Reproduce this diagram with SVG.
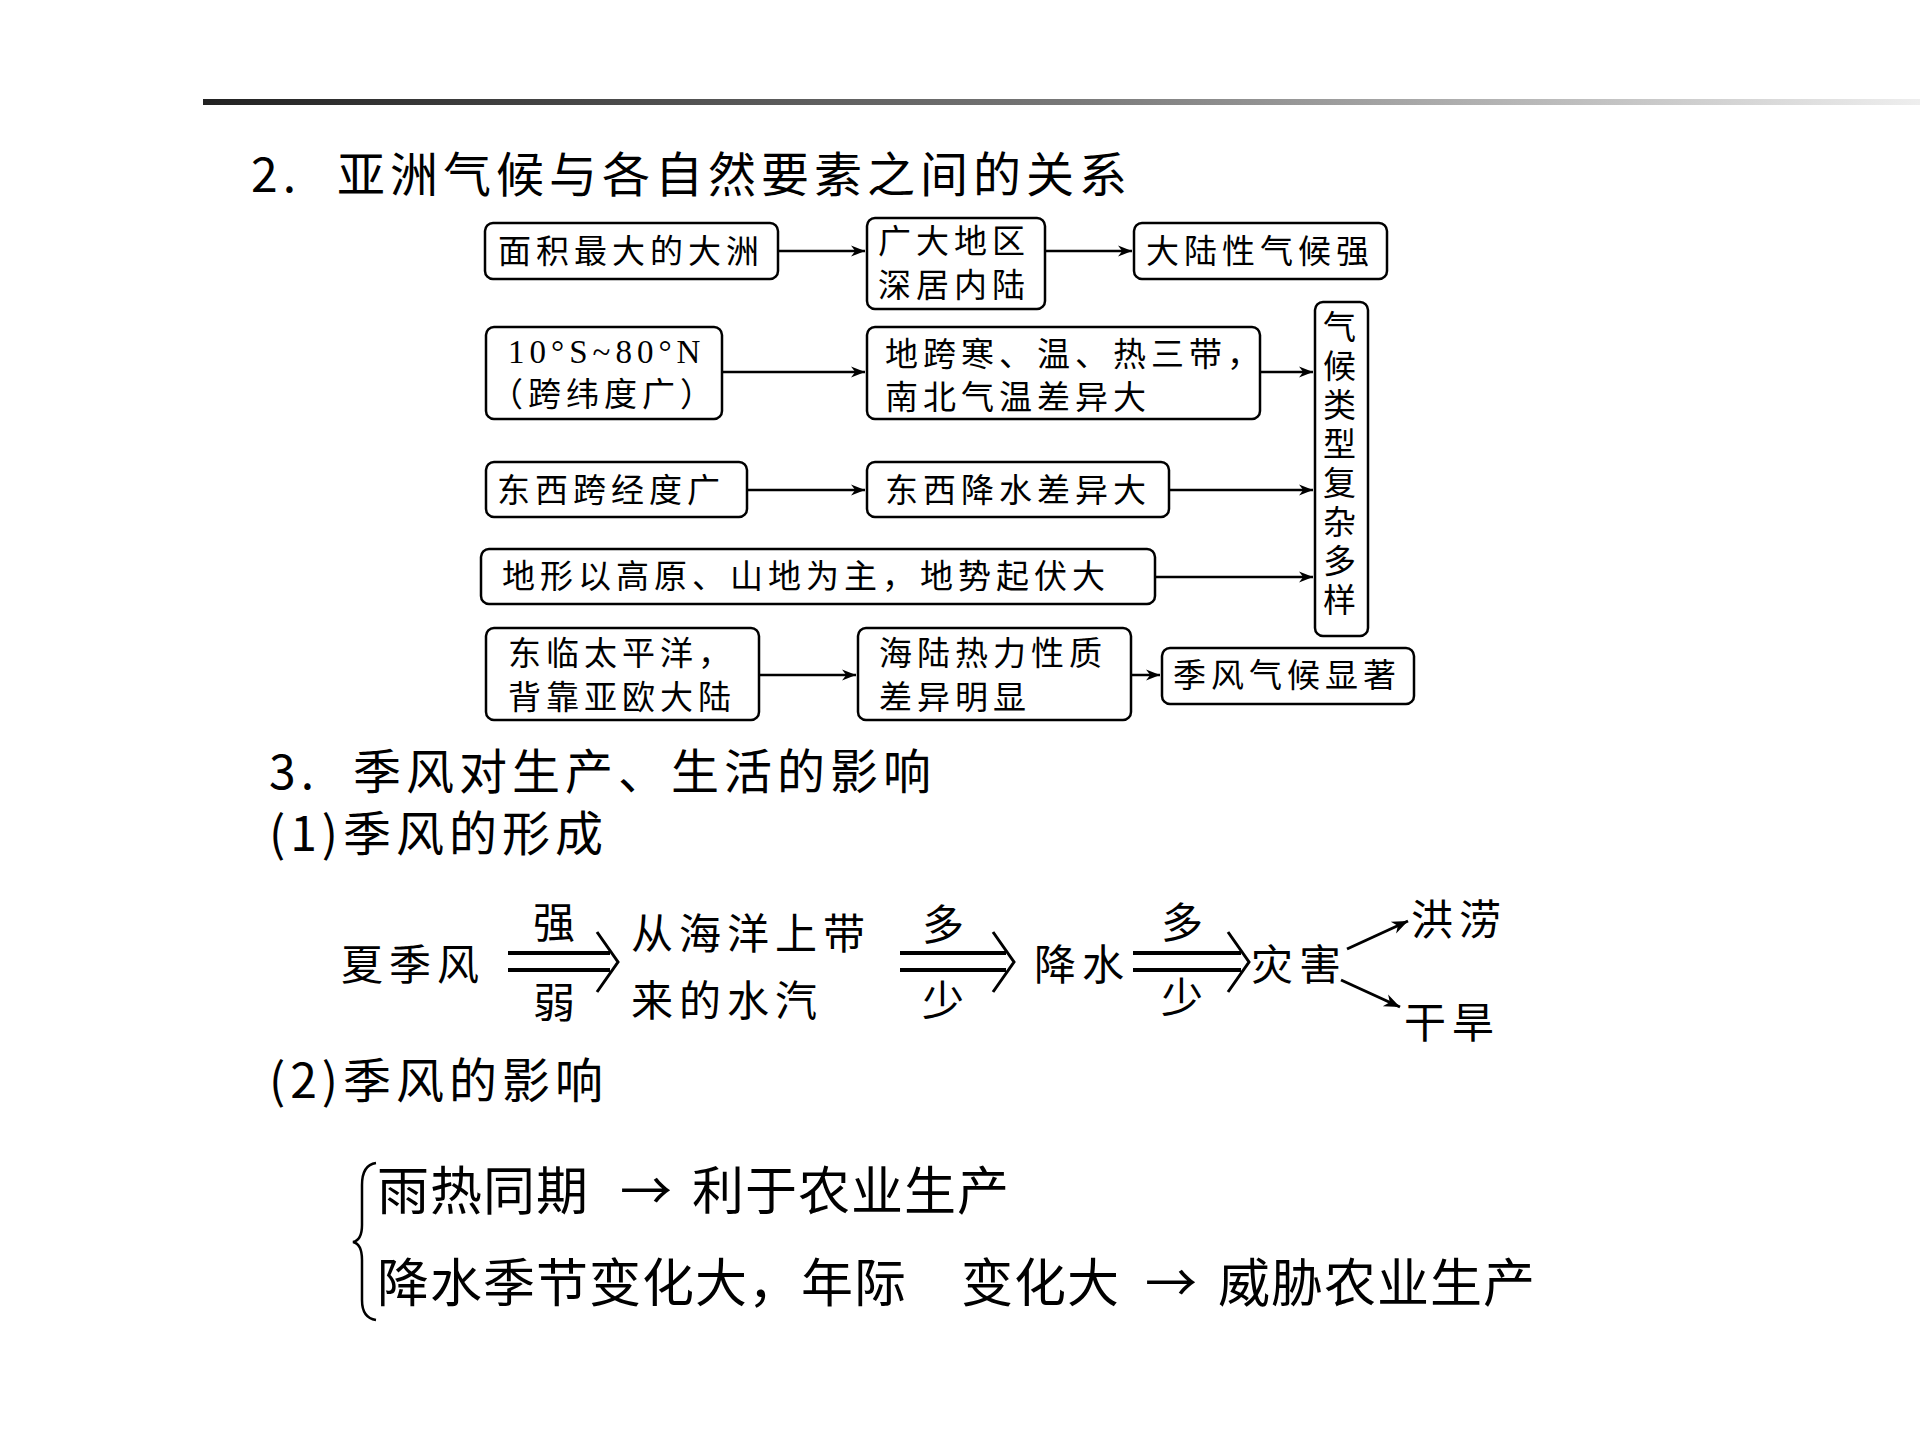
<svg xmlns="http://www.w3.org/2000/svg" width="1920" height="1440" viewBox="0 0 1920 1440">
<defs>
<linearGradient id="g" x1="0" x2="1"><stop offset="0" stop-color="#222"/><stop offset="0.5" stop-color="#777"/><stop offset="1" stop-color="#eee"/></linearGradient>
<marker id="ah" viewBox="0 0 10 10" refX="10" refY="5" markerWidth="14" markerHeight="14" markerUnits="userSpaceOnUse" orient="auto"><path d="M0,1 L10,5 L0,9 L3,5 Z" fill="#000"/></marker>
<marker id="ah2" viewBox="0 0 10 10" refX="10" refY="5" markerWidth="16" markerHeight="16" markerUnits="userSpaceOnUse" orient="auto"><path d="M0,1 L10,5 L0,9 L3,5 Z" fill="#000"/></marker>
</defs>
<style>
.b{fill:#fff;stroke:#000;stroke-width:2.5}
.t{font-family:"Liberation Serif","Noto Sans CJK SC",serif;font-size:33px;letter-spacing:5px;fill:#000}
.h{font-family:"Noto Sans CJK SC",sans-serif;font-size:48px;letter-spacing:5px;fill:#000}
.f{font-family:"Liberation Serif","Noto Sans CJK SC",serif;font-size:42px;letter-spacing:6px;fill:#000}
.s{font-family:"Noto Sans CJK SC",sans-serif;font-size:52px;letter-spacing:1px;fill:#000}
.c{stroke:#000;stroke-width:2.5;fill:none;marker-end:url(#ah)}
.d{stroke:#000;stroke-width:4;fill:none}
</style>
<rect width="1920" height="1440" fill="#fff"/>
<rect x="203" y="99" width="1717" height="6" fill="url(#g)"/>
<text class="h" x="251" y="192">2.</text><text class="h" x="337" y="192">亚洲气候与各自然要素之间的关系</text>
<g id="n1"><rect class="b" x="485" y="223" width="293" height="56" rx="8"/><text class="t" x="498" y="263">面积最大的大洲</text></g>
<g id="n2"><rect class="b" x="867" y="218" width="178" height="91" rx="8"/><text class="t" x="878" y="253">广大地区</text><text class="t" x="878" y="297">深居内陆</text></g>
<g id="n3"><rect class="b" x="1134" y="223" width="253" height="56" rx="8"/><text class="t" x="1146" y="263">大陆性气候强</text></g>
<g id="n4"><rect class="b" x="486" y="327" width="236" height="92" rx="8"/><text class="t" x="508" y="363" letter-spacing="0">10°S~80°N</text><text class="t" x="490" y="406" letter-spacing="0">（跨纬度广）</text></g>
<g id="n5"><rect class="b" x="867" y="327" width="393" height="92" rx="8"/><text class="t" x="885" y="366">地跨寒、温、热三带，</text><text class="t" x="885" y="409">南北气温差异大</text></g>
<g id="n6"><rect class="b" x="1315" y="302" width="53" height="334" rx="8"/><text class="t" text-anchor="middle" letter-spacing="0"><tspan x="1342" y="339">气</tspan><tspan x="1342" y="378">候</tspan><tspan x="1342" y="417">类</tspan><tspan x="1342" y="456">型</tspan><tspan x="1342" y="495">复</tspan><tspan x="1342" y="534">杂</tspan><tspan x="1342" y="573">多</tspan><tspan x="1342" y="612">样</tspan></text></g>
<g id="n7"><rect class="b" x="486" y="462" width="261" height="55" rx="8"/><text class="t" x="497" y="502">东西跨经度广</text></g>
<g id="n8"><rect class="b" x="867" y="462" width="302" height="55" rx="8"/><text class="t" x="885" y="502">东西降水差异大</text></g>
<g id="n9"><rect class="b" x="481" y="549" width="674" height="55" rx="8"/><text class="t" x="502" y="588">地形以高原、山地为主，地势起伏大</text></g>
<g id="n10"><rect class="b" x="486" y="628" width="273" height="92" rx="8"/><text class="t" x="508" y="665">东临太平洋，</text><text class="t" x="508" y="709">背靠亚欧大陆</text></g>
<g id="n11"><rect class="b" x="858" y="628" width="273" height="92" rx="8"/><text class="t" x="879" y="665">海陆热力性质</text><text class="t" x="879" y="709">差异明显</text></g>
<g id="n12"><rect class="b" x="1162" y="648" width="252" height="56" rx="8"/><text class="t" x="1173" y="687">季风气候显著</text></g>
<g id="connectors">
<line class="c" x1="778" y1="251" x2="865" y2="251"/>
<line class="c" x1="1045" y1="251" x2="1132" y2="251"/>
<line class="c" x1="722" y1="372" x2="865" y2="372"/>
<line class="c" x1="1260" y1="372" x2="1313" y2="372"/>
<line class="c" x1="747" y1="490" x2="865" y2="490"/>
<line class="c" x1="1169" y1="490" x2="1313" y2="490"/>
<line class="c" x1="1155" y1="577" x2="1313" y2="577"/>
<line class="c" x1="759" y1="675" x2="856" y2="675"/>
<line class="c" x1="1131" y1="675" x2="1160" y2="675"/>
<line class="d" x1="508" y1="953" x2="610" y2="953"/><line class="d" x1="508" y1="970" x2="610" y2="970"/><path d="M597,932 L618,962 L597,992" stroke="#000" stroke-width="3" fill="none"/>
<line class="d" x1="900" y1="953" x2="1006" y2="953"/><line class="d" x1="900" y1="970" x2="1006" y2="970"/><path d="M993,932 L1014,962 L993,992" stroke="#000" stroke-width="3" fill="none"/>
<line class="d" x1="1133" y1="953" x2="1241" y2="953"/><line class="d" x1="1133" y1="970" x2="1241" y2="970"/><path d="M1228,932 L1249,962 L1228,992" stroke="#000" stroke-width="3" fill="none"/>
<line x1="1347" y1="949" x2="1408" y2="921" stroke="#000" stroke-width="3" marker-end="url(#ah2)"/>
<line x1="1341" y1="980" x2="1400" y2="1007" stroke="#000" stroke-width="3" marker-end="url(#ah2)"/>
</g>
<text class="h" x="269" y="789">3.</text><text class="h" x="353" y="789">季风对生产、生活的影响</text>
<text class="h" x="269" y="851">(1)季风的形成</text>
<text class="f" x="341" y="980">夏季风</text>
<text class="f" x="533" y="938">强</text><text class="f" x="533" y="1018">弱</text>
<text class="f" x="631" y="949">从海洋上带</text><text class="f" x="631" y="1016">来的水汽</text>
<text class="f" x="922" y="940">多</text><text class="f" x="922" y="1016">少</text>
<text class="f" x="1034" y="980">降水</text>
<text class="f" x="1161" y="938">多</text><text class="f" x="1161" y="1013">少</text>
<text class="f" x="1251" y="980">灾害</text>
<text class="f" x="1411" y="935">洪涝</text><text class="f" x="1404" y="1038">干旱</text>
<text class="h" x="269" y="1098">(2)季风的影响</text>
<path d="M376,1163 Q362,1165 362,1185 L362,1225 Q362,1240 353,1242 Q362,1244 362,1260 L362,1300 Q362,1318 376,1320" stroke="#000" stroke-width="2.5" fill="none"/>
<text class="s" x="377" y="1210">雨热同期</text><text class="s" x="620" y="1210">→</text><text class="s" x="692" y="1210">利于农业生产</text>
<text class="s" x="377" y="1302">降水季节变化大，年际</text><text class="s" x="961" y="1302">变化大</text><text class="s" x="1145" y="1302">→</text><text class="s" x="1218" y="1302">威胁农业生产</text>
</svg>
